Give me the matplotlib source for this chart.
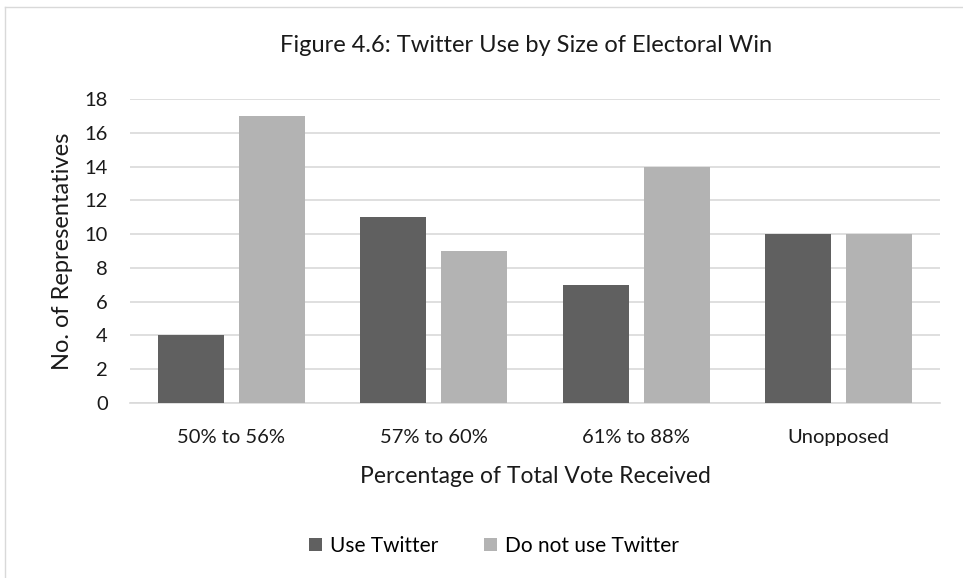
import numpy as np
import matplotlib.pyplot as plt
from matplotlib.lines import Line2D

# Datos
categorias = ["50% to 56%", "57% to 60%", "61% to 88%", "Unopposed"]
usa_twitter = [4, 11, 7, 10]
no_usa_twitter = [17, 9, 14, 10]

oscuro = "#606060"
claro = "#b3b3b3"

plt.rcParams['font.family'] = ['Lato', 'DejaVu Sans']

fig = plt.figure(figsize=(9.63, 5.78), dpi=100)
ax = fig.add_axes([130 / 963, 1 - 403 / 578, 810 / 963, 304 / 578])

x = np.arange(len(categorias))
ancho = 0.326
ax.bar(x - 0.2, usa_twitter, ancho, color=oscuro, label="Use Twitter", zorder=3)
ax.bar(x + 0.2, no_usa_twitter, ancho, color=claro, label="Do not use Twitter", zorder=3)

ax.set_xlim(-0.5, len(categorias) - 0.5)
ax.set_ylim(0, 18)
ax.set_yticks(range(0, 19, 2))
ax.set_xticks(x)
ax.set_xticklabels(categorias)
ax.yaxis.grid(True, color="#d9d9d9", linewidth=1.2, zorder=0)
ax.tick_params(length=0, labelsize=14.5, colors="#1a1a1a")
ax.tick_params(axis="y", pad=16)
ax.tick_params(axis="x", pad=19)
for s in ["top", "right", "left"]:
    ax.spines[s].set_visible(False)
ax.spines["bottom"].set_color("#d9d9d9")
ax.spines["bottom"].set_linewidth(1.2)

ax.set_ylabel("No. of Representatives", fontsize=17, color="#1a1a1a", labelpad=8)
ax.set_xlabel("Percentage of Total Vote Received", fontsize=16.5, color="#1a1a1a", labelpad=14)
fig.text(0.546, 1 - 45 / 578, "Figure 4.6: Twitter Use by Size of Electoral Win",
         fontsize=17, ha="center", va="center", color="#1a1a1a")

fig.legend(loc="center", bbox_to_anchor=(0.513, 1 - 546 / 578), ncol=2, frameon=False,
           fontsize=15, handlelength=0.6, handleheight=0.6, handletextpad=0.4,
           columnspacing=2.2)

# Borde del gráfico
fig.add_artist(Line2D([5 / 963, 5 / 963], [0, 1 - 7 / 578], transform=fig.transFigure,
                      color="#d9d9d9", linewidth=1))
fig.add_artist(Line2D([5 / 963, 1], [1 - 7 / 578, 1 - 7 / 578], transform=fig.transFigure,
                      color="#d9d9d9", linewidth=1))

fig.savefig("out.png", dpi=100)
